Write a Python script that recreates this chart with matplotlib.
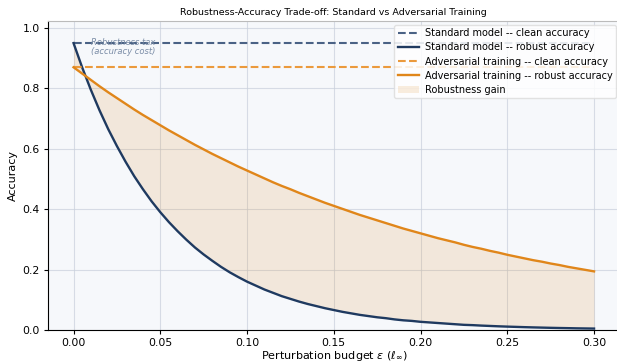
import numpy as np
import matplotlib
matplotlib.use("Agg")
import matplotlib.pyplot as plt

# perturbation budgets (l_inf)
eps = [0.000, 0.005, 0.010, 0.015, 0.020, 0.025, 0.030, 0.035, 0.040, 0.045,
       0.050, 0.055, 0.060, 0.065, 0.070, 0.075, 0.080, 0.085, 0.090, 0.095,
       0.100, 0.105, 0.110, 0.115, 0.120, 0.125, 0.130, 0.135, 0.140, 0.145,
       0.150, 0.155, 0.160, 0.165, 0.170, 0.175, 0.180, 0.185, 0.190, 0.195,
       0.200, 0.205, 0.210, 0.215, 0.220, 0.225, 0.230, 0.235, 0.240, 0.245,
       0.250, 0.255, 0.260, 0.265, 0.270, 0.275, 0.280, 0.285, 0.290, 0.295,
       0.300]

# robust accuracy
std_robust = [0.950, 0.869, 0.795, 0.727, 0.665, 0.609, 0.557, 0.509, 0.466, 0.426,
              0.390, 0.357, 0.327, 0.299, 0.273, 0.250, 0.229, 0.209, 0.191, 0.175,
              0.160, 0.147, 0.134, 0.123, 0.112, 0.103, 0.094, 0.086, 0.079, 0.072,
              0.066, 0.060, 0.055, 0.050, 0.046, 0.042, 0.039, 0.035, 0.032, 0.030,
              0.027, 0.025, 0.023, 0.021, 0.019, 0.017, 0.016, 0.0145, 0.0133, 0.0121,
              0.0111, 0.0102, 0.0093, 0.0085, 0.0078, 0.0071, 0.0065, 0.0060, 0.0054, 0.0050,
              0.0046]
adv_robust = [0.870, 0.849, 0.828, 0.807, 0.787, 0.768, 0.749, 0.730, 0.712, 0.695,
              0.678, 0.661, 0.645, 0.629, 0.613, 0.598, 0.583, 0.569, 0.555, 0.541,
              0.528, 0.515, 0.502, 0.489, 0.477, 0.466, 0.454, 0.443, 0.432, 0.421,
              0.411, 0.401, 0.391, 0.381, 0.372, 0.363, 0.354, 0.345, 0.336, 0.328,
              0.320, 0.312, 0.304, 0.297, 0.290, 0.282, 0.275, 0.269, 0.262, 0.256,
              0.249, 0.243, 0.237, 0.231, 0.226, 0.220, 0.215, 0.209, 0.204, 0.199,
              0.194]

std_clean = 0.95
adv_clean = 0.87

NAVY = "#1f3a60"
ORANGE = "#e0861a"

fig = plt.figure(figsize=(6.17, 3.63), dpi=100)
ax = fig.add_axes([0.077, 0.091, 0.928, 0.851])
ax.set_facecolor("#f6f8fb")

ax.plot(eps, [std_clean] * len(eps), ls="--", color="#4a6285", lw=1.5,
        label="Standard model -- clean accuracy")
ax.plot(eps, std_robust, color=NAVY, lw=1.7, label="Standard model -- robust accuracy")
ax.plot(eps, [adv_clean] * len(eps), ls="--", color="#eb9a3c", lw=1.5,
        label="Adversarial training -- clean accuracy")
ax.plot(eps, adv_robust, color=ORANGE, lw=1.7, label="Adversarial training -- robust accuracy")
ax.fill_between(eps, std_robust, adv_robust, color=ORANGE, alpha=0.14, lw=0,
                label="Robustness gain")

ax.text(0.010, 0.937, "Robustness tax\n(accuracy cost)", fontsize=6, style="italic",
        color="#7a8ca6", va="center", ha="left", linespacing=1.1)

ax.set_xlim(-0.015, 0.315)
ax.set_ylim(0, 1.023)
ax.set_xticks([0.0, 0.05, 0.10, 0.15, 0.20, 0.25, 0.30])
ax.set_xticklabels(["0.00", "0.05", "0.10", "0.15", "0.20", "0.25", "0.30"])
ax.set_yticks([0.0, 0.2, 0.4, 0.6, 0.8, 1.0])
ax.tick_params(labelsize=7.8, length=3, width=0.8, pad=2.5)
ax.grid(True, color="#c9d0dc", lw=0.8, alpha=0.7)
ax.set_axisbelow(True)
for s in ["top", "right"]:
    ax.spines[s].set_color("#bbbbbb")

ax.set_xlabel(r"Perturbation budget $\varepsilon$ ($\ell_\infty$)", fontsize=8, labelpad=1)
ax.set_ylabel("Accuracy", fontsize=8, labelpad=3)
ax.set_title("Robustness-Accuracy Trade-off: Standard vs Adversarial Training", fontsize=6.8, pad=4)

ax.legend(loc="upper right", fontsize=7, framealpha=0.85, borderpad=0.35,
          labelspacing=0.42, handlelength=2.2, handletextpad=0.6, borderaxespad=0.4,
          edgecolor="#dddddd", fancybox=True)

fig.savefig("out.png", dpi=100)
